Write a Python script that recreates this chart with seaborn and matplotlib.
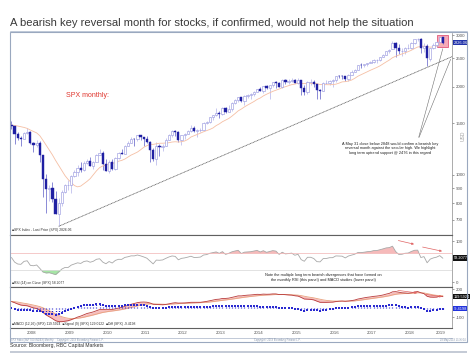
import numpy as np
import pandas as pd
import matplotlib
matplotlib.use('Agg')
import matplotlib.pyplot as plt
import seaborn as sns
from matplotlib.patches import Rectangle
from matplotlib.lines import Line2D
from matplotlib.ticker import NullLocator, NullFormatter

# ---------------- data ----------------
months = pd.date_range('2007-12-01', '2019-05-01', freq='MS')

open_ = [1481,
         1468, 1378, 1331, 1326, 1386, 1400, 1280, 1267, 1283, 1166, 969, 896,
         903, 826, 735, 798, 873, 919, 919, 987, 1021, 1057, 1036, 1096,
         1115, 1074, 1104, 1169, 1187, 1089, 1031, 1102, 1049, 1141, 1183, 1181,
         1258, 1286, 1327, 1326, 1364, 1345, 1321, 1292, 1219, 1131, 1253, 1247,
         1258, 1312, 1366, 1408, 1398, 1310, 1362, 1379, 1407, 1441, 1412, 1416,
         1426, 1498, 1515, 1569, 1598, 1631, 1606, 1686, 1633, 1682, 1757, 1806,
         1848, 1783, 1859, 1872, 1884, 1924, 1960, 1931, 2003, 1972, 2018, 2068,
         2059, 1995, 2105, 2068, 2086, 2107, 2063, 2104, 1972, 1920, 2079, 2080,
         2038, 1940, 1932, 2060, 2065, 2097, 2099, 2174, 2171, 2168, 2126, 2199,
         2251, 2279, 2364, 2363, 2384, 2412, 2423, 2470, 2472, 2519, 2575, 2648,
         2684, 2824, 2714, 2641, 2648, 2705, 2718, 2816, 2902, 2914, 2712, 2760,
         2477, 2704, 2784, 2848, 2952]
high = [1524,
        1471, 1396, 1360, 1397, 1440, 1405, 1292, 1313, 1303, 1167, 1007, 919,
        944, 876, 832, 889, 930, 957, 996, 1039, 1080, 1102, 1113, 1130,
        1150, 1112, 1181, 1220, 1206, 1132, 1120, 1130, 1149, 1196, 1227, 1263,
        1303, 1345, 1333, 1366, 1371, 1346, 1357, 1308, 1230, 1293, 1278, 1270,
        1334, 1378, 1420, 1422, 1415, 1364, 1392, 1427, 1475, 1471, 1434, 1448,
        1509, 1530, 1570, 1598, 1687, 1654, 1698, 1710, 1730, 1776, 1814, 1849,
        1850, 1867, 1884, 1897, 1925, 1968, 1992, 2005, 2019, 2018, 2076, 2093,
        2072, 2120, 2117, 2126, 2135, 2130, 2133, 2113, 2021, 2094, 2117, 2104,
        2038, 1963, 2073, 2112, 2103, 2120, 2178, 2194, 2188, 2170, 2214, 2278,
        2301, 2371, 2401, 2398, 2418, 2454, 2484, 2491, 2520, 2582, 2657, 2695,
        2873, 2836, 2801, 2718, 2742, 2791, 2848, 2916, 2941, 2940, 2816, 2800,
        2708, 2813, 2860, 2949, 2954]
low = [1435,
       1270, 1317, 1257, 1320, 1373, 1272, 1200, 1248, 1107, 840, 741, 815,
       805, 735, 667, 784, 866, 889, 869, 979, 992, 1020, 1030, 1086,
       1071, 1045, 1102, 1167, 1040, 1028, 1011, 1040, 1039, 1131, 1174, 1173,
       1257, 1286, 1249, 1302, 1311, 1258, 1282, 1102, 1114, 1075, 1159, 1202,
       1258, 1312, 1341, 1358, 1291, 1267, 1325, 1375, 1397, 1403, 1343, 1398,
       1426, 1485, 1501, 1537, 1581, 1560, 1604, 1627, 1633, 1646, 1746, 1768,
       1771, 1737, 1834, 1815, 1863, 1915, 1931, 1905, 1964, 1821, 2001, 1973,
       1988, 1981, 2040, 2049, 2067, 2056, 2044, 1867, 1872, 1893, 2019, 1993,
       1812, 1810, 1932, 2034, 2026, 1992, 2075, 2148, 2120, 2097, 2084, 2188,
       2245, 2271, 2322, 2328, 2352, 2405, 2407, 2418, 2447, 2520, 2557, 2605,
       2683, 2533, 2586, 2553, 2595, 2698, 2699, 2803, 2865, 2603, 2631, 2347,
       2444, 2682, 2723, 2848, 2800]
close = [1468,
         1378, 1331, 1323, 1386, 1400, 1280, 1267, 1283, 1166, 969, 896, 903,
         826, 735, 798, 873, 919, 919, 987, 1021, 1057, 1036, 1096, 1115,
         1074, 1104, 1169, 1187, 1089, 1031, 1102, 1049, 1141, 1183, 1181, 1258,
         1286, 1327, 1326, 1364, 1345, 1321, 1292, 1219, 1131, 1253, 1247, 1258,
         1312, 1366, 1408, 1398, 1310, 1362, 1379, 1407, 1441, 1412, 1416, 1426,
         1498, 1515, 1569, 1598, 1631, 1606, 1686, 1633, 1682, 1757, 1806, 1848,
         1783, 1859, 1872, 1884, 1924, 1960, 1931, 2003, 1972, 2018, 2068, 2059,
         1995, 2105, 2068, 2086, 2107, 2063, 2104, 1972, 1920, 2079, 2080, 2044,
         1940, 1932, 2060, 2065, 2097, 2099, 2174, 2171, 2168, 2126, 2199, 2239,
         2279, 2364, 2363, 2384, 2412, 2423, 2470, 2472, 2519, 2575, 2648, 2674,
         2824, 2714, 2641, 2648, 2705, 2718, 2816, 2902, 2914, 2712, 2760, 2507,
         2704, 2784, 2834, 2946, 2826.06]
# earlier monthly closes (Jan 2004 - Nov 2007), only used to seed the studies
warmup_close = [1131, 1145, 1126, 1107, 1121, 1141, 1102, 1104, 1115, 1130, 1174, 1212,
                1181, 1204, 1181, 1157, 1192, 1191, 1234, 1220, 1229, 1207, 1249, 1248,
                1280, 1281, 1295, 1311, 1270, 1270, 1277, 1304, 1336, 1378, 1401, 1418,
                1438, 1407, 1421, 1482, 1531, 1503, 1455, 1474, 1527, 1549, 1481]

year_labels = [str(y) for y in range(2008, 2020)]
price_ticks = [700, 800, 900, 1000, 1500, 2000, 2500, 3000]
macd_ticks = [-100, 200]
trend_x = [14, 138.9]          # uptrend from the March 2009 low
trend_y = [666, 2532]

# ---------------- studies ----------------
allc = pd.Series(warmup_close + close, dtype=float)
n0 = len(warmup_close)
ma = allc.rolling(12).mean().values[n0:]
d = allc.diff()
gain = d.clip(lower=0).ewm(alpha=1 / 14, adjust=False).mean()
loss = (-d.clip(upper=0)).ewm(alpha=1 / 14, adjust=False).mean()
rsi = (100 - 100 / (1 + gain / loss)).values[n0:]
ema12 = allc.ewm(span=12, adjust=False).mean()
ema26 = allc.ewm(span=26, adjust=False).mean()
macd_s = ema12 - ema26
sig_s = macd_s.ewm(span=9, adjust=False).mean()
macd = macd_s.values[n0:]
sig = sig_s.values[n0:]
hist = macd - sig

x = np.arange(len(months)) - 1.0     # Jan 2008 = 0
o, h, l, c = map(np.array, (open_, high, low, close))
up = c >= o

# ---------------- figure ----------------
sns.set_style('white')
plt.rcParams['font.family'] = ['Liberation Sans', 'DejaVu Sans']
W, H = 474, 353
fig = plt.figure(figsize=(W / 100, H / 100), dpi=100)
fig.patch.set_facecolor('white')


def fx(px):
    return px / W


def fy(py):
    return 1 - py / H


L, R = 10, 452
XL = (-1.46, 138.9)
ax = fig.add_axes([fx(L), fy(235), fx(R) - fx(L), fy(33) - fy(235)])
ax_rsi = fig.add_axes([fx(L), fy(287), fx(R) - fx(L), fy(235) - fy(287)])
ax_macd = fig.add_axes([fx(L), fy(328), fx(R) - fx(L), fy(287) - fy(328)])

TICKC = '#555555'
for a in (ax, ax_rsi, ax_macd):
    a.set_xlim(*XL)
    a.set_facecolor('white')
    a.spines['left'].set_color('#a8b4c8')
    a.spines['left'].set_linewidth(0.6)
    a.spines['right'].set_color('#8a8a8a')
    a.spines['right'].set_linewidth(0.5)
    a.spines['top'].set_color('#606060')
    a.spines['top'].set_linewidth(0.8)
    a.spines['bottom'].set_color('#606060')
    a.spines['bottom'].set_linewidth(0.8)
    a.yaxis.tick_right()
    a.tick_params(axis='y', which='both', labelsize=3.2, length=1.5, width=0.4,
                  pad=1, colors=TICKC)
ax.spines['top'].set_visible(False)
for a in (ax, ax_rsi):
    a.tick_params(axis='x', which='both', bottom=False, labelbottom=False)

# ---- main price panel ----
ax.set_yscale('log')
ax.set_ylim(622, 3050)
ax.set_yticks(price_ticks)
ax.set_yticklabels([str(t) for t in price_ticks])
ax.yaxis.set_minor_locator(NullLocator())
ax.yaxis.set_minor_formatter(NullFormatter())

# highlight box around May 2019 candle
ax.add_patch(Rectangle((134.1, 2728), 3.5, 3008 - 2728, facecolor='#f6a9b8',
                       edgecolor='#e0587a', lw=0.6, zorder=1))

wick_col = np.where(up, '#a9a9e6', '#4a4ac0')
ax.vlines(x, l, h, colors=wick_col, lw=0.45, zorder=2)
ax.bar(x[up], (c - o)[up], bottom=o[up], width=0.72, color='white',
       edgecolor='#9c9ce0', linewidth=0.45, zorder=3)
ax.bar(x[~up], (o - c)[~up], bottom=c[~up], width=0.72, color='#1f1fa3',
       edgecolor='#1f1fa3', linewidth=0.3, zorder=3)

sns.lineplot(x=x, y=ma, ax=ax, color='#f5bfa4', lw=0.6, zorder=2)
ax.plot(trend_x, trend_y, color='#606060', lw=0.6, ls=(0, (1.2, 0.6)), zorder=2)

ax.text(23, 1860, 'SPX monthly:', color='#e0342c', fontsize=5,
        ha='center', va='center')
ax.annotate('', xy=(136.2, 2753), xytext=(128.1, 1314),
            arrowprops=dict(arrowstyle='-', color='#707070', lw=0.4))
ax.annotate('', xy=(138.8, 2532), xytext=(128.1, 1314),
            arrowprops=dict(arrowstyle='-', color='#707070', lw=0.4))
ax.text(119.3, 1230,
        'A May 31 close below 2848 would confirm a bearish key\n'
        'reversal month against the secular high. We highlight\n'
        'long term uptrend support @ 2476 in this regard',
        fontsize=2.8, ha='center', va='center', color='#202020', linespacing=1.25)
ax.text(0.005, 0.015, '\u25a0SPX Index - Last Price (SPX) %.2f' % c[-1],
        transform=ax.transAxes, fontsize=2.4, color='#303030', va='bottom')
ax.annotate('%.2f' % c[-1], xy=(1.0, c[-1]), xycoords=('axes fraction', 'data'),
            xytext=(1.0, 0), textcoords='offset points', fontsize=2.8, color='white',
            va='center', ha='left', annotation_clip=False,
            bbox=dict(boxstyle='square,pad=0.2', fc='#2233aa', ec='none'))

# ---- RSI panel ----
sns.lineplot(x=x, y=rsi, ax=ax_rsi, color='#a8a8a8', lw=0.6)
ax_rsi.axhline(70, color='#f2b4b4', lw=0.5)
ax_rsi.axhline(30, color='#d6d6d6', lw=0.5)
ax_rsi.fill_between(x, rsi, 70, where=rsi > 70, interpolate=True,
                    color='#f08c8c', alpha=0.6, lw=0)
ax_rsi.fill_between(x, rsi, 30, where=rsi < 30, interpolate=True,
                    color='#8fe08f', alpha=0.8, lw=0)
ax_rsi.set_ylim(-12, 115)
ax_rsi.set_yticks([0, 100])
ax_rsi.set_yticklabels(['0', '100'])
ax_rsi.set_ylabel('')
arrow_red = dict(arrowstyle='-|>', color='#e06464', lw=0.5, mutation_scale=3)
ax_rsi.annotate('', xy=(127.7, 91), xytext=(121, 103), arrowprops=arrow_red)
ax_rsi.annotate('', xy=(136.6, 74), xytext=(128.7, 87), arrowprops=arrow_red)
ax_rsi.text(98, 12,
            'Note the multiple long term bearish divergences that have formed on\n'
            'the monthly RSI (this panel) and MACD studies (lower panel)',
            fontsize=2.8, ha='center', va='center', color='#202020', linespacing=1.25)
ax_rsi.text(0.005, 0.04, '\u25a0RSI (14) on Close (SPX) %.4f' % rsi[-1],
            transform=ax_rsi.transAxes, fontsize=2.4, color='#303030', va='bottom')
ax_rsi.annotate('%.4f' % rsi[-1], xy=(1.0, rsi[-1]), xycoords=('axes fraction', 'data'),
                xytext=(1.0, 0), textcoords='offset points', fontsize=2.8, color='white',
                va='center', ha='left', annotation_clip=False,
                bbox=dict(boxstyle='square,pad=0.2', fc='#111111', ec='none'))

# ---- MACD panel ----
lo = min(macd.min(), sig.min())
hi = max(macd.max(), sig.max())
rng = (hi - lo) / (0.89 - 0.154)
bot = lo - 0.154 * rng
ax_macd.set_ylim(bot, bot + rng)
ax_macd.fill_between(x, macd, sig, color='#f08a8a', alpha=0.55, lw=0)
sns.lineplot(x=x, y=sig, ax=ax_macd, color='#e8a27e', lw=0.6)
sns.lineplot(x=x, y=macd, ax=ax_macd, color='#b83a3a', lw=0.6)
ax_macd.vlines(x, 0, hist, colors='#2a2ad0', lw=0.9, linestyles=(0, (0.8, 1.2)))
ax_macd.scatter(x, hist, s=0.6, marker='s', color='#2a2ad0', lw=0, zorder=3)
ax_macd.set_yticks(macd_ticks)
ax_macd.set_yticklabels([str(t) for t in macd_ticks])
ax_macd.set_ylabel('')
arr2 = dict(arrowstyle='-|>', color='#e06464', lw=0.5, mutation_scale=3)
ax_macd.annotate('', xy=(128.7, 0.846), xytext=(120.8, 0.927),
                 xycoords=('data', 'axes fraction'), arrowprops=arr2)
ax_macd.annotate('', xy=(136.6, 0.756), xytext=(129.6, 0.829),
                 xycoords=('data', 'axes fraction'), arrowprops=arr2)
ax_macd.text(0.005, 0.04,
             '\u25a0MACD (12,26) (SPX) %.4f  \u25a0Signal (9) (SPX) %.4f  \u25a0Diff (SPX) %.4f'
             % (macd[-1], sig[-1], hist[-1]),
             transform=ax_macd.transAxes, fontsize=2.4, color='#303030', va='bottom')
ax_macd.annotate('%.4f' % macd[-1], xy=(1.0, macd[-1]), xycoords=('axes fraction', 'data'),
                 xytext=(1.0, 0), textcoords='offset points', fontsize=2.8, color='white',
                 va='center', ha='left', annotation_clip=False,
                 bbox=dict(boxstyle='square,pad=0.2', fc='#111111', ec='none'))
ax_macd.annotate('%.4f' % hist[-1], xy=(1.0, hist[-1]), xycoords=('axes fraction', 'data'),
                 xytext=(1.0, 0), textcoords='offset points', fontsize=2.8, color='white',
                 va='center', ha='left', annotation_clip=False,
                 bbox=dict(boxstyle='square,pad=0.2', fc='#2233dd', ec='none'))

# year axis
ax_macd.set_xticks(np.arange(-0.5, 132, 12))
ax_macd.set_xticklabels([])
label_pos = [12 * k + 5.5 for k in range(11)] + [135.2]
ax_macd.set_xticks(label_pos, minor=True)
ax_macd.set_xticklabels(year_labels, minor=True)
ax_macd.tick_params(axis='x', which='major', length=7.2, width=0.4,
                    color='#9aa0b0', direction='out')
ax_macd.tick_params(axis='x', which='minor', length=0, labelsize=3.2, pad=2.2,
                    colors=TICKC)
ax_macd.set_xlabel('')

# ---------------- frame & texts ----------------
fig.add_artist(Rectangle((fx(10), fy(342)), fx(467) - fx(10), fy(32) - fy(342),
                         transform=fig.transFigure, fill=False,
                         edgecolor='#9aa8bf', lw=0.8))
fig.add_artist(Line2D([fx(10), fx(467)], [fy(31), fy(31)], transform=fig.transFigure,
                      color='#b4c0d2', lw=0.6))
fig.add_artist(Line2D([fx(10), fx(452)], [fy(338), fy(338)], transform=fig.transFigure,
                      color='#a8b4c8', lw=0.5))
fig.add_artist(Rectangle((fx(10), 0), fx(467) - fx(10), fy(350.5),
                         transform=fig.transFigure, facecolor='#c5cbd6',
                         edgecolor='none'))
fig.text(fx(10), fy(23), 'A bearish key reversal month for stocks, if confirmed, '
         'would not help the situation', fontsize=8.1, color='#3a3a3a', va='center')
fig.text(fx(10), fy(346), 'Source: Bloomberg, RBC Capital Markets', fontsize=3.6,
         color='#303030', va='center')
fig.text(fx(463), fy(136), 'USD', fontsize=3.6, color='#a0a0a0', rotation=90,
         ha='center', va='center')
fig.text(fx(11), fy(339.5), 'SPX Index (S&P 500 INDEX) Monthly', fontsize=1.8,
         color='#8090a8', va='center')
fig.text(fx(57), fy(339.5), 'Copyright\u00a9 2019 Bloomberg Finance L.P.', fontsize=1.8,
         color='#8090a8', va='center')
fig.text(fx(277), fy(339.5), 'Copyright\u00a9 2019 Bloomberg Finance L.P.', fontsize=1.8,
         color='#8090a8', va='center', ha='center')
fig.text(fx(466), fy(339.5), '29-May-2019 13:36:04', fontsize=1.8,
         color='#8090a8', va='center', ha='right')

fig.savefig('out.png', dpi=100)
